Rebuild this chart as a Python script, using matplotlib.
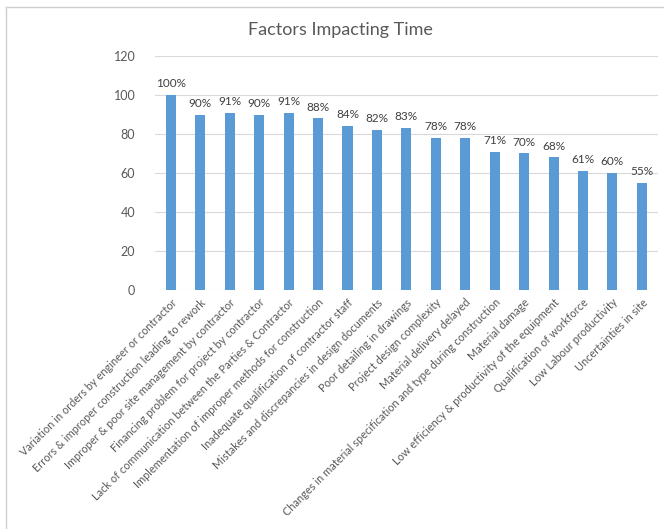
import matplotlib.pyplot as plt
from matplotlib.lines import Line2D

plt.rcParams['font.family'] = ['Lato', 'DejaVu Sans']

factors = [
    "Variation in orders by engineer or contractor",
    "Errors & improper construction leading to rework",
    "Improper & poor site management by contractor",
    "Financing problem for project by contractor",
    "Lack of communication between the Parties & Contractor",
    "Implementation of improper methods for construction",
    "Inadequate qualification of contractor staff",
    "Mistakes and discrepancies in design documents",
    "Poor detailing in drawings",
    "Project design complexity",
    "Material delivery delayed",
    "Changes in material specification and type during construction",
    "Material damage",
    "Low efficiency & productivity of the equipment",
    "Qualification of workforce",
    "Low Labour productivity",
    "Uncertainties in site",
]
impact = [100, 90, 91, 90, 91, 88, 84, 82, 83, 78, 78, 71, 70, 68, 61, 60, 55]

grey = "#595959"

fig = plt.figure(figsize=(6.64, 5.29), dpi=100)
ax = fig.add_axes([0.233, 0.452, 0.758, 0.442])

x = range(len(factors))
bars = ax.bar(x, impact, width=0.34, color="#5b9bd5", zorder=3)
for b, v in zip(bars, impact):
    ax.text(b.get_x() + b.get_width() / 2, v + 3, f"{v}%",
            ha="center", va="bottom", fontsize=8.5, color="#404040")

ax.set_ylim(0, 120)
ax.set_xlim(-0.55, len(factors) - 0.45)
ax.set_yticks(range(0, 121, 20))
ax.yaxis.grid(True, color="#d9d9d9", linewidth=0.8, zorder=0)
for s in ax.spines.values():
    s.set_visible(False)
ax.tick_params(axis="y", length=0, pad=14, labelsize=9, labelcolor=grey)
ax.tick_params(axis="x", length=0, pad=5)
ax.set_xticks(list(x))
ax.set_xticklabels(factors, rotation=45, ha="right", rotation_mode="anchor",
                   fontsize=7.9, color=grey)

fig.text(0.512, 0.943, "Factors Impacting Time", ha="center", va="center",
         fontsize=13, color=grey)

# thin frame on top and left edge of the figure
fig.add_artist(Line2D([0.009, 0.009], [0.0, 0.987], color="#d0d0d0",
                      linewidth=1, transform=fig.transFigure))
fig.add_artist(Line2D([0.009, 1.0], [0.987, 0.987], color="#d0d0d0",
                      linewidth=1, transform=fig.transFigure))

fig.savefig("out.png", dpi=100)
